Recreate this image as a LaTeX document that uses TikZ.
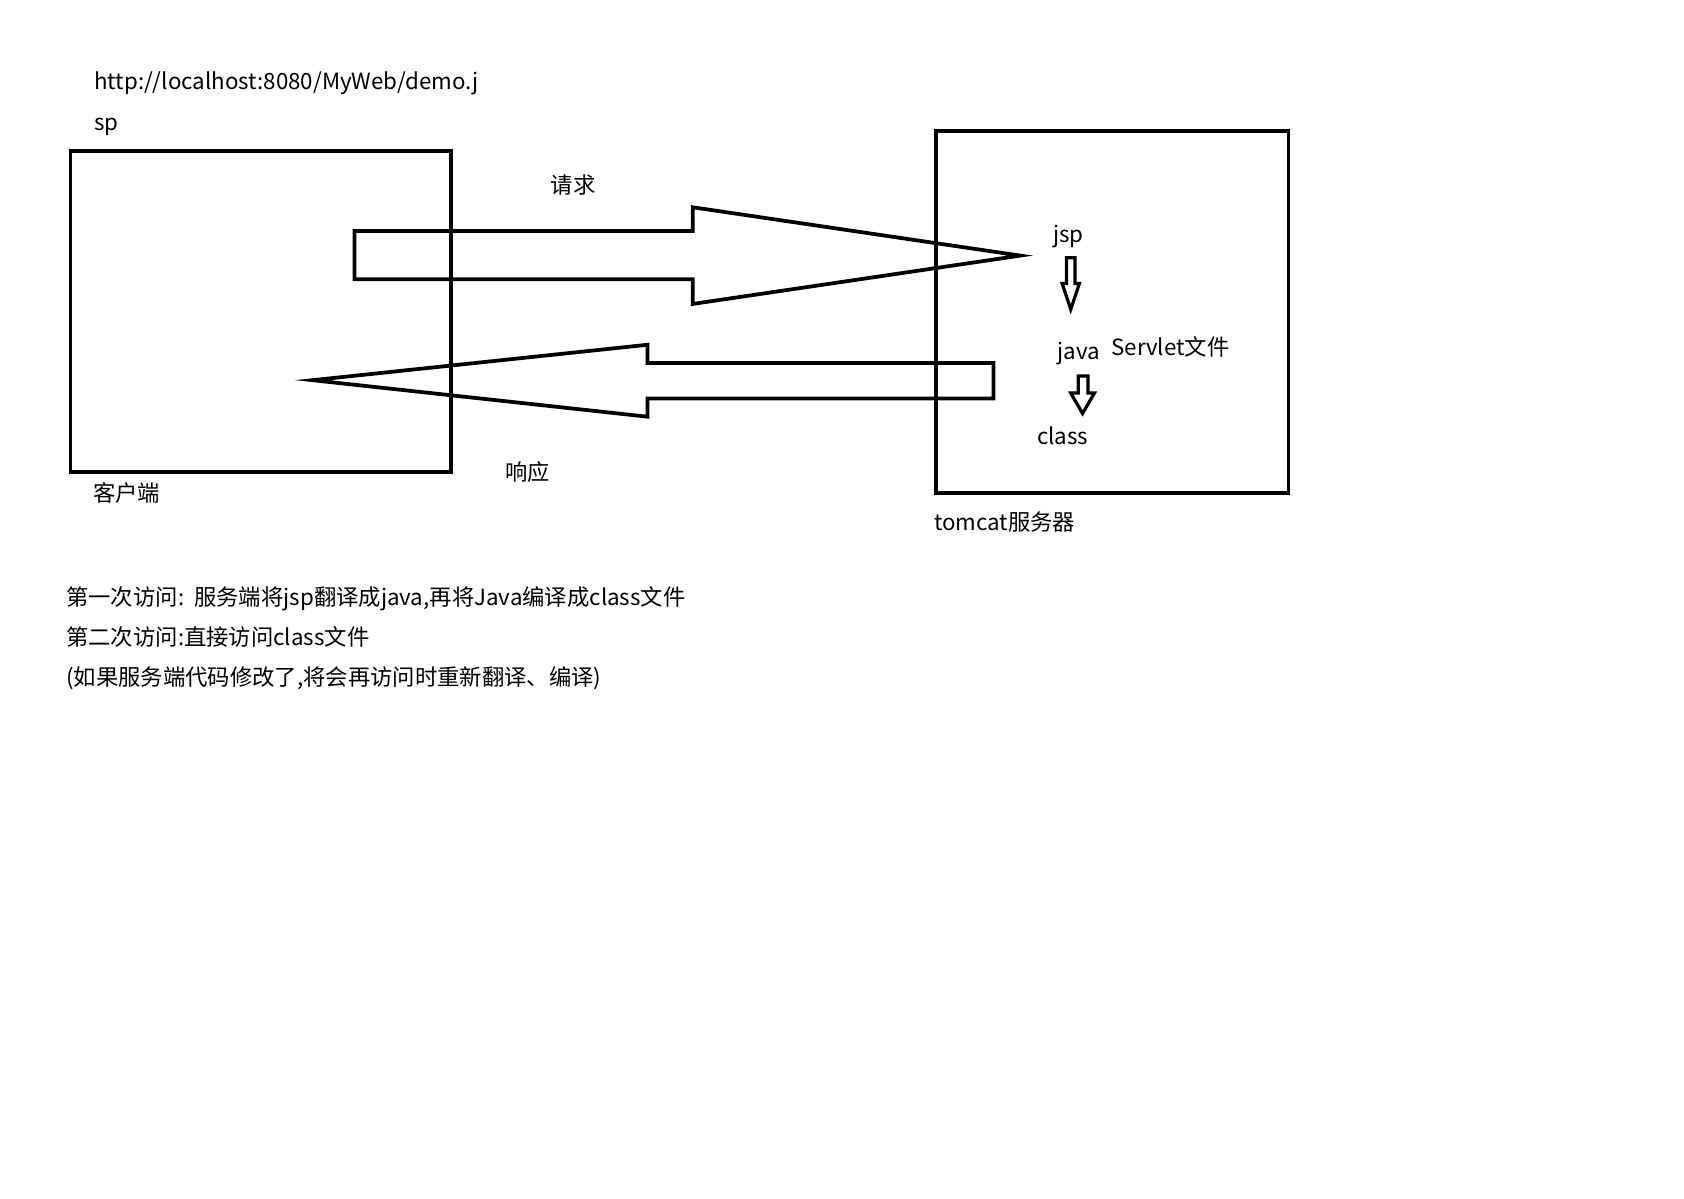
\documentclass[tikz,border=0pt]{standalone}
\usepackage{fontspec}
\setmainfont{Noto Sans CJK SC}
\usetikzlibrary{positioning}

\begin{document}
\begin{tikzpicture}[x=1pt, y=-1pt, line width=3.5pt, line join=miter,
    lbl/.style={anchor=mid west, inner sep=0pt, yshift=-4pt, font=\fontsize{20.8}{25}\selectfont}]
    \useasboundingbox (0,0) rectangle (1568,1116);

    % 1. Hai khung
    \node[draw, minimum width=354pt, minimum height=299pt, inner sep=0pt, anchor=north west] (client) at (64,139) {};
    \node[draw, minimum width=328pt, minimum height=337pt, inner sep=0pt, anchor=north west] (server) at (870,120) {};

    % 2. Nhãn
    \node[lbl] (url) at (86,77) {http://localhost:8080/MyWeb/demo.j};
    \node[lbl] (urlsp) at (86,115) {sp};
    \node[lbl] (clientlbl) at (85,460) {客户端};
    \node[lbl] (serverlbl) at (868,487) {tomcat服务器};
    \node[lbl] (req) at (511,173) {请求};
    \node[lbl] (resp) at (469,441) {响应};
    \node[lbl] (jsp) at (979,219) {jsp};
    \node[lbl] (java) at (983,328) {java};
    \node[lbl] (servlet) at (1033,324) {Servlet文件};
    \node[lbl] (class) at (964,407) {class};

    % 3. Mũi tên lớn
    \draw (330,215) -- (645,215) -- (645,193) -- (950,238) -- (645,283)
        -- (645,260) -- (330,260) -- cycle;
    \draw (925,338) -- (603,338) -- (603,321) -- (291,354) -- (603,388)
        -- (603,371) -- (925,371) -- cycle;

    % 4. Mũi tên nhỏ jsp -> java -> class
    \draw[line width=3pt] (993,240) -- (1001,240) -- (1001,264) -- (1005,264)
        -- (997,288) -- (989,264) -- (993,264) -- cycle;
    \draw[line width=3pt] (1004,350) -- (1013,350) -- (1013,366) -- (1019,366)
        -- (1008,385) -- (997,366) -- (1004,366) -- cycle;

    % 5. Ghi chú
    \node[lbl] (note1) at (60,557) {第一次访问:\ \ 服务端将jsp翻译成java,再将Java编译成class文件};
    \node[lbl] (note2) at (60,594) {第二次访问:直接访问class文件};
    \node[lbl] (note3) at (60,632) {(如果服务端代码修改了,将会再访问时重新翻译、编译)};
\end{tikzpicture}
\end{document}
